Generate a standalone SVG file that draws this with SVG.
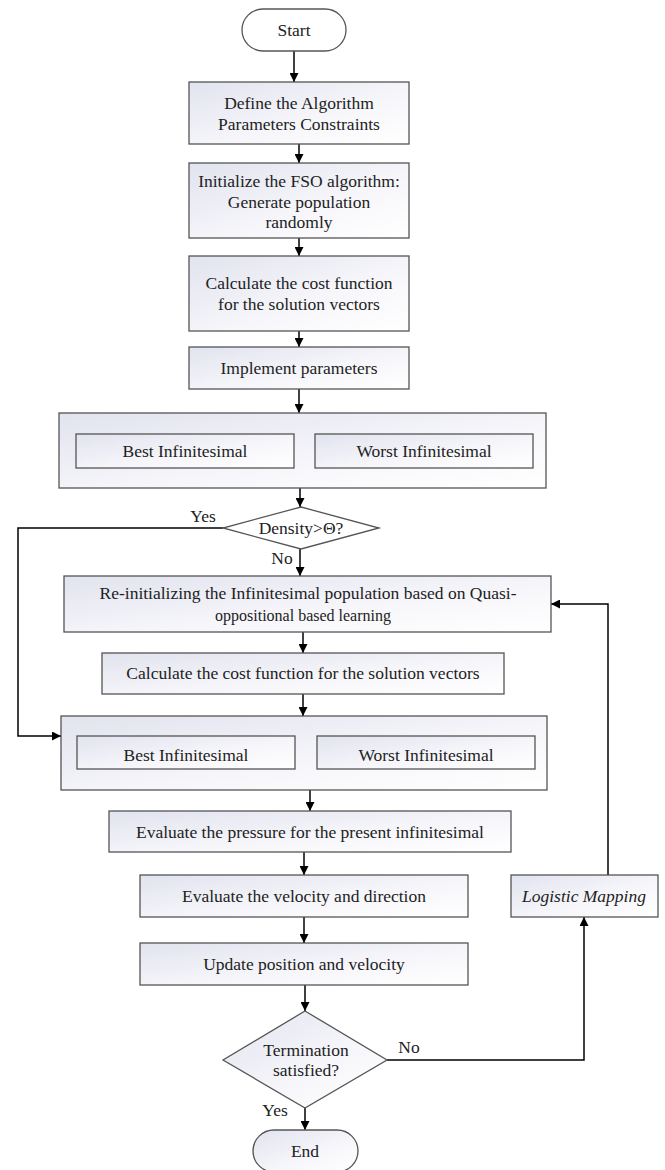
<svg xmlns="http://www.w3.org/2000/svg" width="665" height="1170" viewBox="0 0 665 1170">
<defs>
<linearGradient id="g" x1="0" y1="0" x2="1" y2="1">
<stop offset="0" stop-color="#e1e3ee"/>
<stop offset="0.6" stop-color="#f7f7fb"/>
<stop offset="1" stop-color="#ffffff"/>
</linearGradient>
<marker id="ah" viewBox="0 0 10 10" refX="10" refY="5" markerWidth="9" markerHeight="9" markerUnits="userSpaceOnUse" orient="auto">
<path d="M0,0 L10,5 L0,10 Z" fill="#000"/>
</marker>
</defs>
<style>
.n{fill:url(#g);stroke:#555;stroke-width:1.3}
.w{fill:#fff;stroke:#555;stroke-width:1.3}
.t{font-family:"Liberation Serif","Times New Roman",serif;font-size:17.5px;fill:#222;text-anchor:middle}
.s{font-size:16px}
.i{font-style:italic}
.c{fill:none;stroke:#000;stroke-width:1.5;marker-end:url(#ah)}
.l{fill:none;stroke:#000;stroke-width:1.5}
</style>
<rect width="665" height="1170" fill="#fff"/>
<g id="connectors">
<path class="c" d="M294,51 V82"/>
<path class="c" d="M299,144 V163"/>
<path class="c" d="M299,238 V256"/>
<path class="c" d="M299,331 V347"/>
<path class="c" d="M299,389 V413"/>
<path class="c" d="M300,488 V507"/>
<path class="c" d="M300,549 V576"/>
<path class="c" d="M303,632 V653"/>
<path class="c" d="M303,694 V716"/>
<path class="c" d="M223,528 H18 V736 H61"/>
<path class="c" d="M310,790 V811"/>
<path class="c" d="M304,852 V875"/>
<path class="c" d="M304,917 V943"/>
<path class="c" d="M305,985 V1011"/>
<path class="c" d="M305,1108 V1130"/>
<path class="c" d="M387,1060 H584 V917"/>
<path class="c" d="M608,875 V604 H551"/>
<text class="t" x="203" y="522">Yes</text>
<text class="t" x="282" y="564">No</text>
<text class="t" x="409" y="1053">No</text>
<text class="t" x="275" y="1116">Yes</text>
</g>
<g id="start">
<rect class="w" x="242" y="9" width="104" height="42" rx="21"/>
<text class="t" x="294" y="36">Start</text>
</g>
<g id="define">
<rect class="n" x="189" y="82" width="220" height="62"/>
<text class="t" x="299" y="109">Define the Algorithm</text>
<text class="t" x="299" y="130">Parameters Constraints</text>
</g>
<g id="init">
<rect class="n" x="189" y="163" width="220" height="75"/>
<text class="t" x="299" y="187">Initialize the FSO algorithm:</text>
<text class="t" x="299" y="208">Generate population</text>
<text class="t" x="299" y="228">randomly</text>
</g>
<g id="cost1">
<rect class="n" x="189" y="256" width="220" height="75"/>
<text class="t" x="299" y="289">Calculate the cost function</text>
<text class="t" x="299" y="310">for the solution vectors</text>
</g>
<g id="implement">
<rect class="n" x="189" y="347" width="220" height="42"/>
<text class="t" x="299" y="374">Implement parameters</text>
</g>
<g id="group1">
<rect class="n" x="59" y="413" width="487" height="75"/>
<rect class="n" x="76" y="434" width="218" height="34"/>
<text class="t" x="185" y="457">Best Infinitesimal</text>
<rect class="n" x="315" y="434" width="218" height="34"/>
<text class="t" x="424" y="457">Worst Infinitesimal</text>
</g>
<g id="density">
<polygon class="w" points="301,507 379,528 301,549 223,528"/>
<text class="t" x="301" y="534">Density&gt;Θ?</text>
</g>
<g id="reinit">
<rect class="n" x="64" y="576" width="487" height="56"/>
<text class="t" x="308" y="599">Re-initializing the Infinitesimal population based on Quasi-</text>
<text class="t s" x="303" y="621">oppositional based learning</text>
</g>
<g id="cost2">
<rect class="n" x="102" y="653" width="402" height="41"/>
<text class="t" x="303" y="679">Calculate the cost function for the solution vectors</text>
</g>
<g id="group2">
<rect class="n" x="61" y="716" width="486" height="74"/>
<rect class="n" x="77" y="736" width="218" height="33"/>
<text class="t" x="186" y="761">Best Infinitesimal</text>
<rect class="n" x="317" y="736" width="218" height="33"/>
<text class="t" x="426" y="761">Worst Infinitesimal</text>
</g>
<g id="pressure">
<rect class="n" x="109" y="811" width="402" height="41"/>
<text class="t" x="310" y="838">Evaluate the pressure for the present infinitesimal</text>
</g>
<g id="velocity">
<rect class="n" x="140" y="875" width="328" height="42"/>
<text class="t" x="304" y="902">Evaluate the velocity and direction</text>
</g>
<g id="update">
<rect class="n" x="140" y="943" width="328" height="42"/>
<text class="t" x="304" y="970">Update position and velocity</text>
</g>
<g id="logistic">
<rect class="n" x="511" y="875" width="147" height="42"/>
<text class="t i" x="584" y="902">Logistic Mapping</text>
</g>
<g id="termination">
<polygon class="n" points="305,1011 387,1060 305,1108 223,1060"/>
<text class="t" x="306" y="1056">Termination</text>
<text class="t" x="306" y="1076">satisfied?</text>
</g>
<g id="end">
<rect class="n" x="253" y="1130" width="105" height="42" rx="21"/>
<text class="t" x="305" y="1157">End</text>
</g>
</svg>
